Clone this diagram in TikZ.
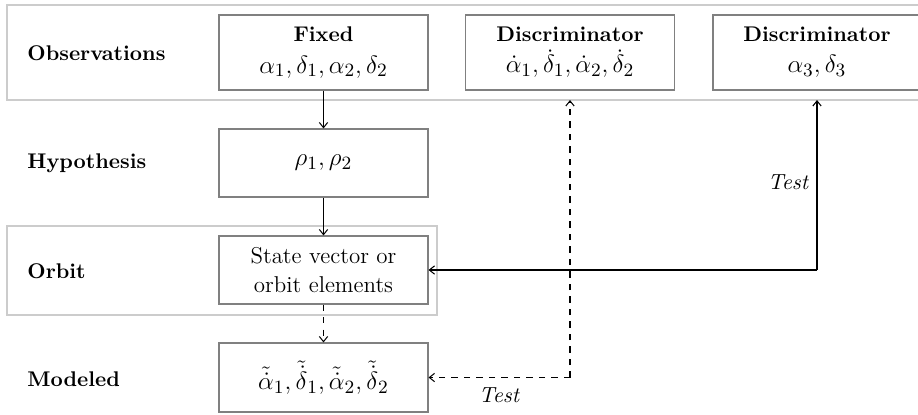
\documentclass[tikz,border=0pt]{standalone}
\usetikzlibrary{arrows.meta}
\newcommand{\mymath}[1]{{\fontsize{12.2}{14}\selectfont$#1$}}
\begin{document}
\begin{tikzpicture}[x=0.48pt,y=-0.48pt,
  inner/.style={draw=black!50,line width=0.5pt,minimum width=209*0.48pt,minimum height=75*0.48pt,align=center,inner sep=0pt,font=\fontsize{11}{14}\selectfont},
  outer/.style={draw=black!20,line width=0.6pt},
  lab/.style={font=\fontsize{10.2}{12}\selectfont\bfseries,anchor=west,inner sep=0pt},
  conn/.style={draw=black,line width=0.5pt,-{Straight Barb[length=2.5pt,width=4pt]}},
  tst/.style={font=\fontsize{10.5}{12}\selectfont\itshape,inner sep=0pt}]
\useasboundingbox (0,0) rectangle (918,414);
\begin{scope}
\clip (0,0) rectangle (918,414);
\draw[outer] (7,5) rectangle (930,100);
\draw[outer] (7,226) rectangle (437,315);
\node[inner] (fixed) at (323.5,52.5) {{\fontsize{10.2}{12}\selectfont\textbf{Fixed}}\\[1pt]\mymath{\alpha_1,\delta_1,\alpha_2,\delta_2}};
\node[inner] (disc1) at (570,52.5) {{\fontsize{10.2}{12}\selectfont\textbf{Discriminator}}\\[1pt]\mymath{\dot\alpha_1,\dot\delta_1,\dot\alpha_2,\dot\delta_2}};
\node[inner,minimum width=240*0.48pt] (disc2) at (833,52.5) {};
\node[font=\fontsize{11}{14}\selectfont,align=center,inner sep=0pt] (disc2t) at (817,52.5) {{\fontsize{10.2}{12}\selectfont\textbf{Discriminator}}\\[1pt]\mymath{\alpha_3,\delta_3}};
\node[inner,minimum height=68*0.48pt] (hyp) at (323.5,163) {\mymath{\rho_1,\rho_2}};
\node[inner,minimum height=68*0.48pt] (orb) at (323.5,270) {State vector or\\orbit elements};
\node[inner,minimum height=69*0.48pt] (mod) at (323.5,377.5) {\mymath{\tilde{\dot\alpha}_1,\tilde{\dot\delta}_1,\tilde{\dot\alpha}_2,\tilde{\dot\delta}_2}};
\node[lab] (lobs) at (27,53) {Observations};
\node[lab] (lhyp) at (27,163) {Hypothesis};
\node[lab] (lorb) at (27,271) {Orbit};
\node[lab] (lmod) at (27,379) {Modeled};
\coordinate (c1) at (817,100);
\coordinate (c2) at (570,100);
\draw[conn] (fixed.south) -- (hyp.north);
\draw[conn] (hyp.south) -- (orb.north);
\draw[conn,dashed] (orb.south) -- (mod.north);
\draw[conn] (c1 |- orb.east) -- (orb.east);
\draw[conn] (c1 |- orb.east) -- (c1);
\draw[conn,dashed] (c2 |- mod.east) -- (mod.east);
\draw[conn,dashed] (c2 |- mod.east) -- (c2);
\node[tst] (t1) at (788,182) {Test};
\node[tst] (t2) at (499,395) {Test};
\end{scope}
\end{tikzpicture}
\end{document}
